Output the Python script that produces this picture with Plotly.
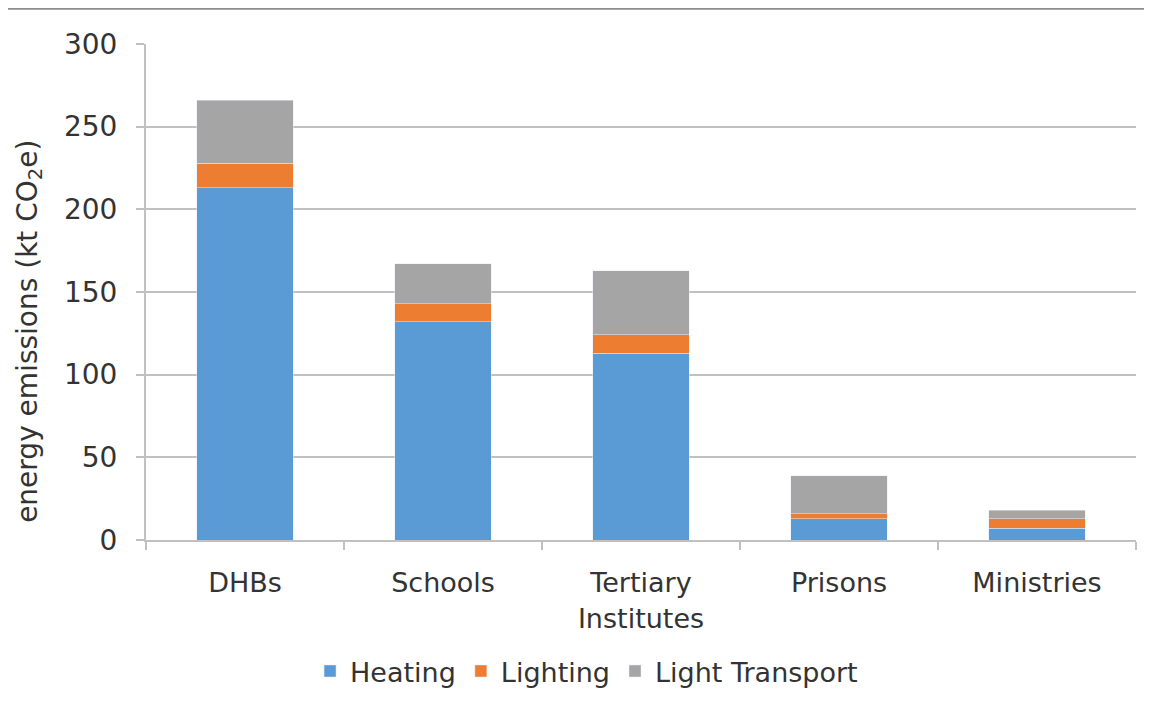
import plotly.graph_objects as go

categories = ["DHBs", "Schools", "Tertiary<br>Institutes", "Prisons", "Ministries"]
heating = [213, 132, 113, 13, 7]
lighting = [15, 11, 11, 3, 6]
light_transport = [38, 24, 39, 23, 5]

fig = go.Figure()
fig.add_trace(go.Bar(x=categories, y=heating, name="Heating", marker_color="#5b9bd5"))
fig.add_trace(go.Bar(x=categories, y=lighting, name="Lighting", marker_color="#ed7d31"))
fig.add_trace(go.Bar(x=categories, y=light_transport, name="Light Transport", marker_color="#a5a5a5"))

fig.update_layout(
    barmode="stack",
    bargap=0.515,
    width=1152,
    height=717,
    paper_bgcolor="white",
    plot_bgcolor="white",
    font=dict(family="DejaVu Sans, sans-serif", size=26, color="#333333"),
    margin=dict(l=138, r=24, t=36, b=185, autoexpand=False),
    legend=dict(orientation="h", x=0.445, xanchor="center", y=-0.265, yanchor="middle",
                font=dict(size=27), itemwidth=30, traceorder="normal"),
    showlegend=True,
)
fig.update_yaxes(
    range=[0, 300], dtick=50, showgrid=True, gridcolor="#c0c0c0", gridwidth=2,
    showline=True, linecolor="#c0c0c0", linewidth=2,
    ticks="outside", ticklen=8, tickcolor="#c0c0c0", tickwidth=2,
    ticklabelstandoff=13, tickfont=dict(size=28),
    zeroline=False, automargin=False,
)
fig.update_xaxes(
    showline=True, linecolor="#c0c0c0", linewidth=2,
    ticks="outside", tickson="boundaries", ticklen=8, tickcolor="#c0c0c0", tickwidth=2,
    ticklabelstandoff=18, tickfont=dict(size=27), automargin=False,
)
# y axis title placed a bit below the plot centre, as in the original
fig.add_annotation(text="energy emissions (kt CO<sub>2</sub>e)", textangle=-90,
                   xref="paper", yref="paper", x=-0.118, y=0.42,
                   xanchor="center", yanchor="middle", showarrow=False,
                   font=dict(size=28))
fig.add_shape(type="line", xref="paper", yref="paper", x0=-0.2, x1=1.1, y0=1.071, y1=1.071,
              line=dict(color="#8c8c8c", width=2))

fig.write_html("out.html")
